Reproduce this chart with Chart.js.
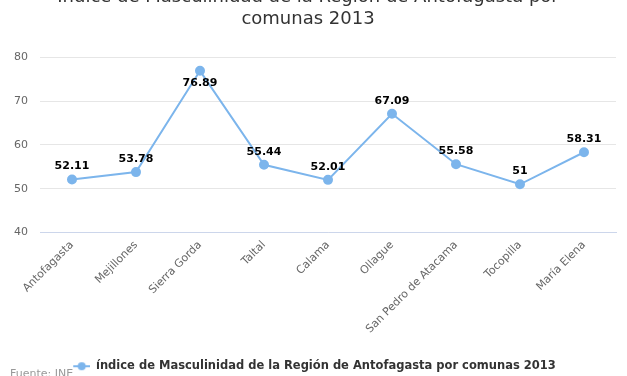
<!DOCTYPE html>
<html>
<head>
<meta charset="utf-8">
<script src="https://cdn.jsdelivr.net/npm/chart.js@4"></script>
<style>
  html, body { margin: 0; padding: 0; background: #fff; }
  #wrap { position: relative; width: 627px; height: 376px; overflow: hidden; }
  #box { position: absolute; left: 0; top: -22px; width: 627px; height: 404px; }
</style>
</head>
<body>
<div id="wrap"><div id="box"><canvas id="chart"></canvas></div></div>
<script>
const comunas = ["Antofagasta", "Mejillones", "Sierra Gorda", "Taltal", "Calama",
                 "Ollague", "San Pedro de Atacama", "Tocopilla", "María Elena"];
const masculinidad = [52.11, 53.78, 76.89, 55.44, 52.01, 67.09, 55.58, 51, 58.31];
const yTicks = [40, 50, 60, 70, 80];

const titleLines = ["Índice de Masculinidad de la Región de Antofagasta por", "comunas 2013"];
const serieName = "índice de Masculinidad de la Región de Antofagasta por comunas 2013";
const fuente = "Fuente: INE";

const azul = '#7cb5ec';
const fontFam = '"DejaVu Sans", sans-serif';

// legend symbol: line with dot like highcharts
const sym = document.createElement('canvas');
sym.width = 30; sym.height = 10;
const sc = sym.getContext('2d');
sc.strokeStyle = azul; sc.lineWidth = 2;
sc.beginPath(); sc.moveTo(13, 5); sc.lineTo(30, 5); sc.stroke();
sc.fillStyle = azul;
sc.beginPath(); sc.arc(21.5, 5, 4, 0, Math.PI * 2); sc.fill();

// valores encima de cada punto
const etiquetas = {
  id: 'etiquetas',
  afterDatasetsDraw(chart) {
    const c = chart.ctx;
    const meta = chart.getDatasetMeta(0);
    c.save();
    c.font = 'bold 11px ' + fontFam;
    c.fillStyle = '#000';
    c.textAlign = 'center';
    c.textBaseline = 'middle';
    meta.data.forEach((p, i) => {
      let y = p.y - 13;
      if (y - 6 < chart.chartArea.top) y = p.y + 12;
      c.fillText(String(masculinidad[i]), p.x, y);
    });
    c.restore();
  },
  afterDraw(chart) {
    const c = chart.ctx;
    c.save();
    c.font = '11px ' + fontFam;
    c.fillStyle = '#999';
    c.textAlign = 'left';
    c.textBaseline = 'middle';
    c.fillText(fuente, 10, chart.height - 8);
    c.restore();
  }
};

new Chart(document.getElementById('chart'), {
  type: 'line',
  data: {
    labels: comunas,
    datasets: [{
      label: serieName,
      data: masculinidad,
      borderColor: azul,
      backgroundColor: azul,
      borderWidth: 2,
      pointRadius: 4,
      pointHoverRadius: 5,
      pointStyle: 'circle',
      tension: 0
    }]
  },
  options: {
    responsive: true,
    maintainAspectRatio: false,
    animation: false,
    layout: { padding: { left: 0, right: 11, top: 0, bottom: 0 } },
    plugins: {
      title: {
        display: true,
        text: titleLines,
        color: '#333',
        font: { family: fontFam, size: 18, weight: 'normal', lineHeight: 1.2 },
        padding: { top: 9, bottom: 27 }
      },
      legend: {
        position: 'bottom',
        labels: {
          usePointStyle: true,
          pointStyle: sym,
          pointStyleWidth: 30,
          color: '#333',
          font: { family: fontFam, size: 11.5, weight: 'bold' },
          padding: 10
        }
      },
      tooltip: { enabled: false }
    },
    scales: {
      x: {
        offset: true,
        grid: { display: false, drawTicks: false },
        border: { display: true, color: '#ccd6eb', width: 1 },
        ticks: {
          color: '#666',
          font: { family: fontFam, size: 11 },
          maxRotation: 45, minRotation: 45,
          padding: 6,
          autoSkip: false
        },
        afterFit(s) { s.height = 118; }
      },
      y: {
        min: 40, max: 80,
        afterBuildTicks(s) { s.ticks = yTicks.map(v => ({ value: v })); },
        grid: { color: '#e6e6e6', drawTicks: false },
        border: { display: false },
        ticks: {
          color: '#666',
          font: { family: fontFam, size: 11 },
          padding: 12
        },
        afterFit(s) { s.width = 40; }
      }
    }
  },
  plugins: [etiquetas]
});
</script>
</body>
</html>
